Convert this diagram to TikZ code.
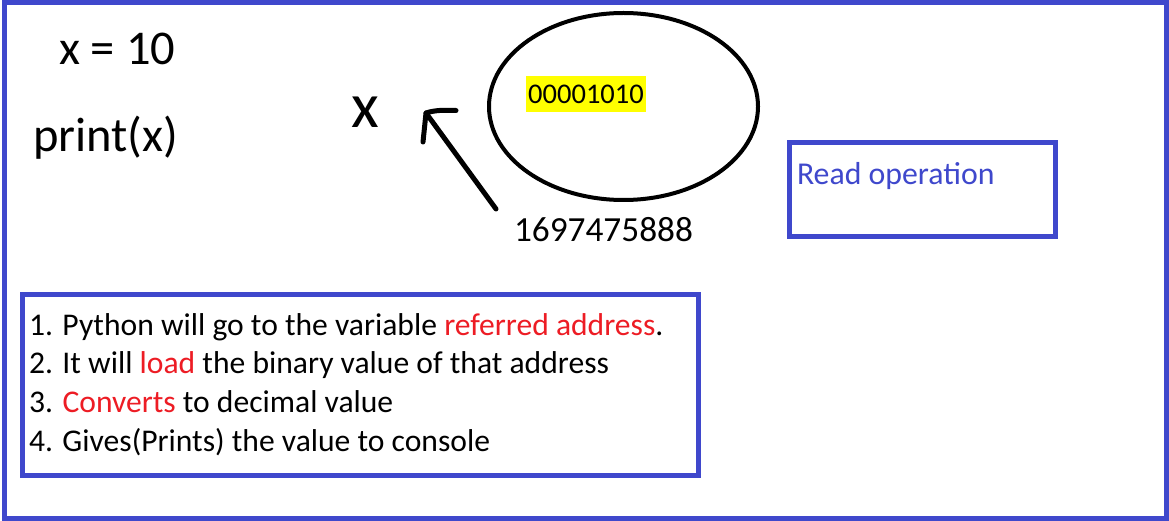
\documentclass[tikz,border=0pt]{standalone}
\usepackage{fontspec}
\setmainfont{Carlito}
\usetikzlibrary{shapes.geometric}
\definecolor{pblue}{HTML}{3F48CC}
\definecolor{pred}{HTML}{ED1C24}
\definecolor{pyellow}{HTML}{FFFF00}
\newcommand{\fs}[1]{\fontsize{#1}{#1}\selectfont}
\tikzset{
  bluebox/.style={draw=pblue, line width=5pt, rectangle, inner sep=0pt},
  txt/.style={anchor=base west, inner sep=0pt, outer sep=0pt, text=black},
  pen/.style={line width=5pt, line cap=round, line join=round, black},
}
\begin{document}
\begin{tikzpicture}[x=1pt,y=-1pt]
\useasboundingbox (0,0) rectangle (1169,521);
\fill[white] (0,0) rectangle (1169,521);
% outer frame
\node[bluebox, minimum width=1162pt, minimum height=516pt] (frame) at (585.5,260.5) {};
% code
\node[txt, font=\fs{48.5}] (assign) at (59,65) {x = 10};
\node[txt, font=\fs{48.5}] (print) at (33,152) {print(x)};
% variable name
\node[txt, font=\fs{64}] (var) at (351,128) {x};
% memory cell
\node[draw=black, line width=4pt, ellipse, minimum width=269pt, minimum height=187pt, inner sep=0pt] (cell) at (623.5,106.5) {};
\node[fill=pyellow, minimum width=120pt, minimum height=36pt, inner sep=0pt, font=\fs{28.5}] (bin) at (586,94) {00001010};
\node[txt, font=\fs{35.3}] (addr) at (514,242) {1697475888};
% arrow
\coordinate (tail) at (496,209);
\coordinate (tip) at (426,113);
\coordinate (headL) at (423,142);
\coordinate (headR) at (456,110.5);
\draw[pen] (tail) -- (tip);
\draw[pen] (headL) -- (tip) .. controls (435,110) and (445,110) .. (headR);
% read operation
\node[bluebox, minimum width=266pt, minimum height=94pt] (readbox) at (922,189.5) {};
\node[txt, font=\fs{31.8}, text=pblue] (readtxt) at (797,185) {Read operation};
% steps
\node[bluebox, minimum width=676pt, minimum height=181pt] (stepsbox) at (360.5,385) {};
\node[txt, font=\fs{31.6}] (s1) at (29,335) {1. Python will go to the variable \textcolor{pred}{referred address}.};
\node[txt, font=\fs{31.6}] (s2) at (29,373.8) {2. It will \textcolor{pred}{load} the binary value of that address};
\node[txt, font=\fs{31.6}] (s3) at (29,412.6) {3. \textcolor{pred}{Converts} to decimal value};
\node[txt, font=\fs{31.6}] (s4) at (29,451.4) {4. Gives(Prints) the value to console};
\end{tikzpicture}
\end{document}
